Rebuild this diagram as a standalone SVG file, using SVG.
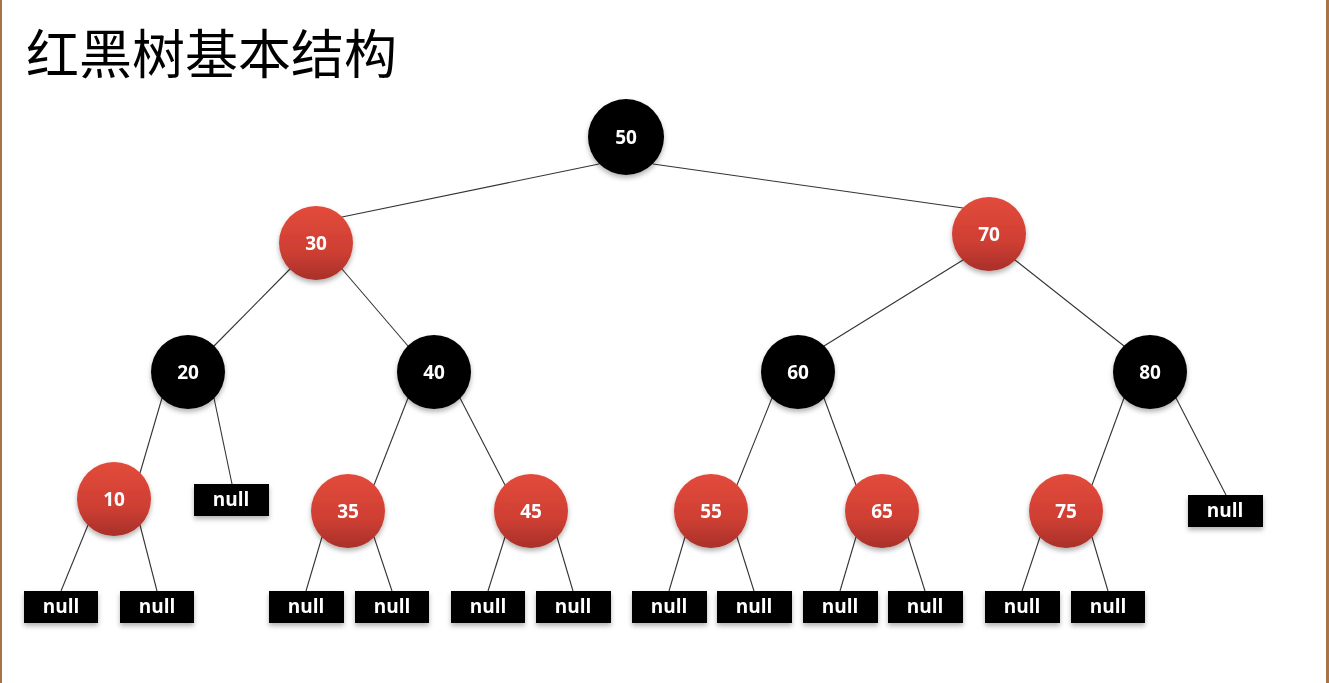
<svg xmlns="http://www.w3.org/2000/svg" width="1329" height="683" viewBox="0 0 1329 683">
<style>
.edge{stroke:#333;stroke-width:1.1;fill:none}
.blk{fill:#000}
.red{fill:url(#rg)}
.nul{fill:#000}
.lbl{font-family:"Open Sans","Noto Sans",sans-serif;font-weight:bold;font-size:19px;fill:#fff;text-anchor:middle}
.nl{font-family:"Open Sans","Noto Sans",sans-serif;font-weight:bold;font-size:19px;fill:#fff;text-anchor:middle}
.title{font-family:"Noto Sans CJK SC","Noto Sans",sans-serif;font-size:53px;fill:#000}
</style>
<defs>
<linearGradient id="rg" x1="0" y1="0" x2="0" y2="1">
<stop offset="0" stop-color="#e24b3b"/>
<stop offset="0.6" stop-color="#cf3f33"/>
<stop offset="1" stop-color="#a8302a"/>
</linearGradient>
<filter id="sh" x="-30%" y="-30%" width="160%" height="170%">
<feDropShadow dx="0" dy="3" stdDeviation="2.5" flood-color="#000" flood-opacity="0.3"/>
</filter>
</defs>
<rect x="0" y="0" width="1329" height="683" fill="#fff"/>
<rect x="0" y="0" width="2" height="683" fill="#a87447"/>
<rect x="1326" y="0" width="3" height="683" fill="#a87447"/>
<text class="title" x="26" y="74">红黑树基本结构</text>
<g id="connectors">
<line class="edge" x1="599" y1="164" x2="342" y2="217"/>
<line class="edge" x1="653" y1="164" x2="963" y2="208"/>
<line class="edge" x1="290" y1="269" x2="214" y2="346"/>
<line class="edge" x1="342" y1="269" x2="408" y2="346"/>
<line class="edge" x1="963" y1="260" x2="824" y2="346"/>
<line class="edge" x1="1015" y1="260" x2="1124" y2="346"/>
<line class="edge" x1="162" y1="398" x2="140" y2="473"/>
<line class="edge" x1="214" y1="398" x2="232" y2="484"/>
<line class="edge" x1="408" y1="398" x2="374" y2="485"/>
<line class="edge" x1="460" y1="398" x2="505" y2="485"/>
<line class="edge" x1="772" y1="398" x2="737" y2="485"/>
<line class="edge" x1="824" y1="398" x2="856" y2="485"/>
<line class="edge" x1="1124" y1="398" x2="1092" y2="485"/>
<line class="edge" x1="1176" y1="398" x2="1226" y2="495"/>
<line class="edge" x1="88" y1="525" x2="61" y2="591"/>
<line class="edge" x1="140" y1="525" x2="157" y2="591"/>
<line class="edge" x1="322" y1="537" x2="306" y2="591"/>
<line class="edge" x1="374" y1="537" x2="392" y2="591"/>
<line class="edge" x1="505" y1="537" x2="488" y2="591"/>
<line class="edge" x1="557" y1="537" x2="573" y2="591"/>
<line class="edge" x1="685" y1="537" x2="669" y2="591"/>
<line class="edge" x1="737" y1="537" x2="754" y2="591"/>
<line class="edge" x1="856" y1="537" x2="840" y2="591"/>
<line class="edge" x1="908" y1="537" x2="925" y2="591"/>
<line class="edge" x1="1040" y1="537" x2="1022" y2="591"/>
<line class="edge" x1="1092" y1="537" x2="1108" y2="591"/>
</g>
<g id="n50" filter="url(#sh)"><circle class="blk" cx="626" cy="137" r="38"/><text class="lbl" x="626" y="144">50</text></g>
<g id="n30" filter="url(#sh)"><circle class="red" cx="316" cy="243" r="37"/><text class="lbl" x="316" y="250">30</text></g>
<g id="n70" filter="url(#sh)"><circle class="red" cx="989" cy="234" r="37"/><text class="lbl" x="989" y="241">70</text></g>
<g id="n20" filter="url(#sh)"><circle class="blk" cx="188" cy="372" r="37"/><text class="lbl" x="188" y="379">20</text></g>
<g id="n40" filter="url(#sh)"><circle class="blk" cx="434" cy="372" r="37"/><text class="lbl" x="434" y="379">40</text></g>
<g id="n60" filter="url(#sh)"><circle class="blk" cx="798" cy="372" r="37"/><text class="lbl" x="798" y="379">60</text></g>
<g id="n80" filter="url(#sh)"><circle class="blk" cx="1150" cy="372" r="37"/><text class="lbl" x="1150" y="379">80</text></g>
<g id="n10" filter="url(#sh)"><circle class="red" cx="114" cy="499" r="37"/><text class="lbl" x="114" y="506">10</text></g>
<g id="n35" filter="url(#sh)"><circle class="red" cx="348" cy="511" r="37"/><text class="lbl" x="348" y="518">35</text></g>
<g id="n45" filter="url(#sh)"><circle class="red" cx="531" cy="511" r="37"/><text class="lbl" x="531" y="518">45</text></g>
<g id="n55" filter="url(#sh)"><circle class="red" cx="711" cy="511" r="37"/><text class="lbl" x="711" y="518">55</text></g>
<g id="n65" filter="url(#sh)"><circle class="red" cx="882" cy="511" r="37"/><text class="lbl" x="882" y="518">65</text></g>
<g id="n75" filter="url(#sh)"><circle class="red" cx="1066" cy="511" r="37"/><text class="lbl" x="1066" y="518">75</text></g>
<g id="null20" filter="url(#sh)"><rect class="nul" x="194" y="484" width="75" height="32"/><text class="nl" x="231" y="506">null</text></g>
<g id="null80" filter="url(#sh)"><rect class="nul" x="1188" y="495" width="75" height="32"/><text class="nl" x="1225" y="517">null</text></g>
<g id="null10a" filter="url(#sh)"><rect class="nul" x="24" y="591" width="74" height="32"/><text class="nl" x="61" y="613">null</text></g>
<g id="null10b" filter="url(#sh)"><rect class="nul" x="120" y="591" width="74" height="32"/><text class="nl" x="157" y="613">null</text></g>
<g id="null35a" filter="url(#sh)"><rect class="nul" x="269" y="591" width="75" height="32"/><text class="nl" x="306" y="613">null</text></g>
<g id="null35b" filter="url(#sh)"><rect class="nul" x="355" y="591" width="74" height="32"/><text class="nl" x="392" y="613">null</text></g>
<g id="null45a" filter="url(#sh)"><rect class="nul" x="451" y="591" width="74" height="32"/><text class="nl" x="488" y="613">null</text></g>
<g id="null45b" filter="url(#sh)"><rect class="nul" x="536" y="591" width="75" height="32"/><text class="nl" x="573" y="613">null</text></g>
<g id="null55a" filter="url(#sh)"><rect class="nul" x="632" y="591" width="75" height="32"/><text class="nl" x="669" y="613">null</text></g>
<g id="null55b" filter="url(#sh)"><rect class="nul" x="717" y="591" width="75" height="32"/><text class="nl" x="754" y="613">null</text></g>
<g id="null65a" filter="url(#sh)"><rect class="nul" x="803" y="591" width="75" height="32"/><text class="nl" x="840" y="613">null</text></g>
<g id="null65b" filter="url(#sh)"><rect class="nul" x="888" y="591" width="75" height="32"/><text class="nl" x="925" y="613">null</text></g>
<g id="null75a" filter="url(#sh)"><rect class="nul" x="985" y="591" width="75" height="32"/><text class="nl" x="1022" y="613">null</text></g>
<g id="null75b" filter="url(#sh)"><rect class="nul" x="1071" y="591" width="74" height="32"/><text class="nl" x="1108" y="613">null</text></g>
</svg>
